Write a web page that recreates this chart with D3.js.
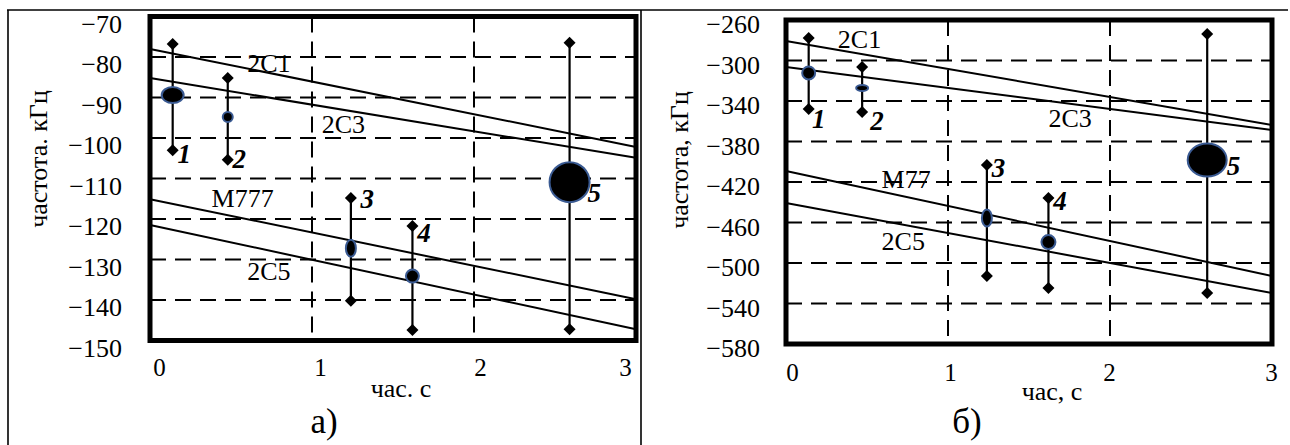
<!DOCTYPE html>
<html lang="ru">
<head>
  <meta charset="UTF-8">
  <title>частота</title>
  <script src="https://cdn.jsdelivr.net/npm/d3@7"></script>
  <style>
    body { margin: 0; background: #fff; }
    svg { display: block; }
    svg text { font-family: "Liberation Serif", "Times New Roman", serif; }
  </style>
</head>
<body>
<script>
  // общие
  const xTicks = [0, 1, 2, 3]
  const pointIds = [1, 2, 3, 4, 5]

  // панель а)
  const yTicksA = [-70, -80, -90, -100, -110, -120, -130, -140, -150]
  const lineNamesA = ['2C1', '2C3', 'M777', '2C5']
  const lineStartA = [-78.0, -85.2, -115.1, -121.5]
  const lineEndA = [-102.2, -104.9, -139.8, -147.2]
  const timeA = [0.14, 0.48, 1.24, 1.62, 2.59]
  const meanA = [-89.4, -94.8, -127.2, -134.1, -110.9]
  const maxA = [-76.8, -85.2, -114.8, -121.7, -76.5]
  const minA = [-103.0, -105.4, -140.2, -147.4, -147.2]

  // панель б)
  const yTicksB = [-260, -300, -340, -380, -420, -460, -500, -540, -580]
  const lineNamesB = ['2C1', '2C3', 'M77', '2C5']
  const lineStartB = [-280.7, -306.4, -409.1, -440.7]
  const lineEndB = [-363.7, -368.6, -512.8, -529.6]
  const timeB = [0.14, 0.47, 1.24, 1.62, 2.6]
  const meanB = [-312.3, -327.2, -455.6, -479.3, -398.3]
  const maxB = [-277.8, -306.4, -403.2, -435.8, -273.8]
  const minB = [-347.9, -350.9, -512.8, -524.7, -529.6]

  // подписи (в единицах осей) и размеры маркеров
  const panels = [
    {
      letter: 'а)', yTitle: 'частота. кГц', xTitle: 'час. с',
      yTicks: yTicksA, names: lineNamesA, start: lineStartA, end: lineEndA,
      time: timeA, mean: meanA, max: maxA, min: minA,
      nameAt: [[0.6, -83.7], [1.06, -98.8], [0.38, -117], [0.6, -135]],
      idAt: [[0.17, -106.2], [0.51, -107.4], [1.3, -117.3], [1.65, -125.7], [2.7, -115.8]],
      marker: [[11, 8], [5, 5], [5, 8.5], [6.5, 6.5], [20, 20]],
      box: {left: 150, right: 636, top: 16.5, bottom: 340.5},
      yLabelX: 122, yLabelDy: 7, xLabelY: 367, xLabelDx: [9, 8, 6, -11],
      yTitlePos: [47, 159], xTitlePos: [401, 397], letterPos: [324, 433]
    },
    {
      letter: 'б)', yTitle: 'частота, кГц', xTitle: 'час, с',
      yTicks: yTicksB, names: lineNamesB, start: lineStartB, end: lineEndB,
      time: timeB, mean: meanB, max: maxB, min: minB,
      nameAt: [[0.32, -287.7], [1.62, -365.7], [0.59, -425.9], [0.59, -487.2]],
      idAt: [[0.16, -366.7], [0.52, -368.6], [1.27, -415.1], [1.65, -447.7], [2.72, -413.1]],
      marker: [[6.5, 6.5], [6, 3], [5, 8.5], [7, 7], [19.5, 16.5]],
      box: {left: 786, right: 1272, top: 20, bottom: 344},
      yLabelX: 760, yLabelDy: 4, xLabelY: 372, xLabelDx: [6, 2, -1, -1],
      yTitlePos: [688, 160], xTitlePos: [1052, 400], letterPos: [967, 433]
    }
  ]

  const width = 1290
  const height = 445
  const serif = '"Liberation Serif", "Times New Roman", serif'

  const svg = d3.select('body').append('svg')
    .attr('width', width)
    .attr('height', height)
    .attr('font-family', serif)

  // рамки ячеек таблицы
  const cells = svg.append('g').attr('stroke', '#000').attr('stroke-width', 1.6).attr('fill', 'none')
  cells.append('line').attr('x1', 7).attr('x2', 1288).attr('y1', 10).attr('y2', 10)
  cells.append('line').attr('x1', 8).attr('x2', 8).attr('y1', 10).attr('y2', height)
  cells.append('line').attr('x1', 641).attr('x2', 641).attr('y1', 10).attr('y2', height)

  const diamond = d3.symbol(d3.symbolSquare, 72)

  panels.forEach(p => {
    const b = p.box
    const x = d3.scaleLinear().domain([0, 3]).range([b.left, b.right])
    const y = d3.scaleLinear().domain(d3.extent(p.yTicks)).range([b.bottom, b.top])
    const g = svg.append('g')

    // подписи кривых (под сеткой)
    g.append('g')
      .attr('font-size', 26)
      .selectAll('text')
      .data(p.names)
      .join('text')
      .attr('x', (d, i) => x(p.nameAt[i][0]))
      .attr('y', (d, i) => y(p.nameAt[i][1]))
      .text(d => d)

    // сетка
    const grid = g.append('g')
      .attr('stroke', '#000')
      .attr('stroke-width', 2)
      .attr('stroke-dasharray', '16,9')
    grid.selectAll('.h')
      .data(p.yTicks.slice(1, -1))
      .join('line')
      .attr('x1', b.left).attr('x2', b.right)
      .attr('y1', d => y(d)).attr('y2', d => y(d))
    grid.selectAll('.v')
      .data(xTicks.slice(1, -1))
      .join('line')
      .attr('y1', b.top).attr('y2', b.bottom)
      .attr('x1', d => x(d)).attr('x2', d => x(d))

    // прямые
    g.append('g')
      .attr('stroke', '#000')
      .attr('stroke-width', 2)
      .selectAll('line')
      .data(p.names)
      .join('line')
      .attr('x1', x(0)).attr('x2', x(3))
      .attr('y1', (d, i) => y(p.start[i]))
      .attr('y2', (d, i) => y(p.end[i]))

    // разбросы
    g.append('g')
      .attr('stroke', '#000')
      .attr('stroke-width', 2.2)
      .selectAll('line')
      .data(pointIds)
      .join('line')
      .attr('x1', (d, i) => x(p.time[i])).attr('x2', (d, i) => x(p.time[i]))
      .attr('y1', (d, i) => y(p.max[i])).attr('y2', (d, i) => y(p.min[i]))

    const ends = pointIds.flatMap((d, i) => [[p.time[i], p.max[i]], [p.time[i], p.min[i]]])
    g.append('g')
      .selectAll('path')
      .data(ends)
      .join('path')
      .attr('d', diamond)
      .attr('transform', d => `translate(${x(d[0])},${y(d[1])}) rotate(45)`)
      .attr('fill', '#000')

    g.append('g')
      .selectAll('ellipse')
      .data(pointIds)
      .join('ellipse')
      .attr('cx', (d, i) => x(p.time[i]))
      .attr('cy', (d, i) => y(p.mean[i]))
      .attr('rx', (d, i) => p.marker[i][0])
      .attr('ry', (d, i) => p.marker[i][1])
      .attr('fill', '#000')
      .attr('stroke', '#3a5a92')
      .attr('stroke-width', 2)

    // номера точек
    g.append('g')
      .attr('font-size', 27)
      .attr('font-weight', 'bold')
      .attr('font-style', 'italic')
      .selectAll('text')
      .data(pointIds)
      .join('text')
      .attr('x', (d, i) => x(p.idAt[i][0]))
      .attr('y', (d, i) => y(p.idAt[i][1]))
      .text(d => d)

    // рамка
    g.append('rect')
      .attr('x', b.left).attr('y', b.top)
      .attr('width', b.right - b.left).attr('height', b.bottom - b.top)
      .attr('fill', 'none')
      .attr('stroke', '#000')
      .attr('stroke-width', 5)

    // оси
    const yAxis = g.append('g')
      .attr('transform', `translate(${p.yLabelX},0)`)
      .call(d3.axisLeft(y).tickValues(p.yTicks).tickFormat(d3.format('d')).tickSize(0).tickPadding(0))
      .attr('font-family', serif)
      .attr('font-size', 26)
    yAxis.select('.domain').remove()
    yAxis.selectAll('text')
      .attr('fill', '#000')
      .attr('dy', null)
      .attr('dominant-baseline', 'central')
      .attr('y', p.yLabelDy)

    const xAxis = g.append('g')
      .attr('transform', `translate(0,${p.xLabelY})`)
      .call(d3.axisBottom(x).tickValues(xTicks).tickFormat(d3.format('d')).tickSize(0).tickPadding(0))
      .attr('font-family', serif)
      .attr('font-size', 25)
    xAxis.select('.domain').remove()
    xAxis.selectAll('text')
      .attr('fill', '#000')
      .attr('dy', null)
      .attr('y', 0)
      .attr('dominant-baseline', 'central')
      .attr('x', (d, i) => p.xLabelDx[i])

    g.append('text')
      .attr('transform', `translate(${p.yTitlePos}) rotate(-90)`)
      .attr('text-anchor', 'middle')
      .attr('font-size', 26)
      .text(p.yTitle)

    g.append('text')
      .attr('x', p.xTitlePos[0]).attr('y', p.xTitlePos[1])
      .attr('text-anchor', 'middle')
      .attr('font-size', 26)
      .text(p.xTitle)

    g.append('text')
      .attr('x', p.letterPos[0]).attr('y', p.letterPos[1])
      .attr('text-anchor', 'middle')
      .attr('font-size', 35)
      .text(p.letter)
  })
</script>
</body>
</html>
